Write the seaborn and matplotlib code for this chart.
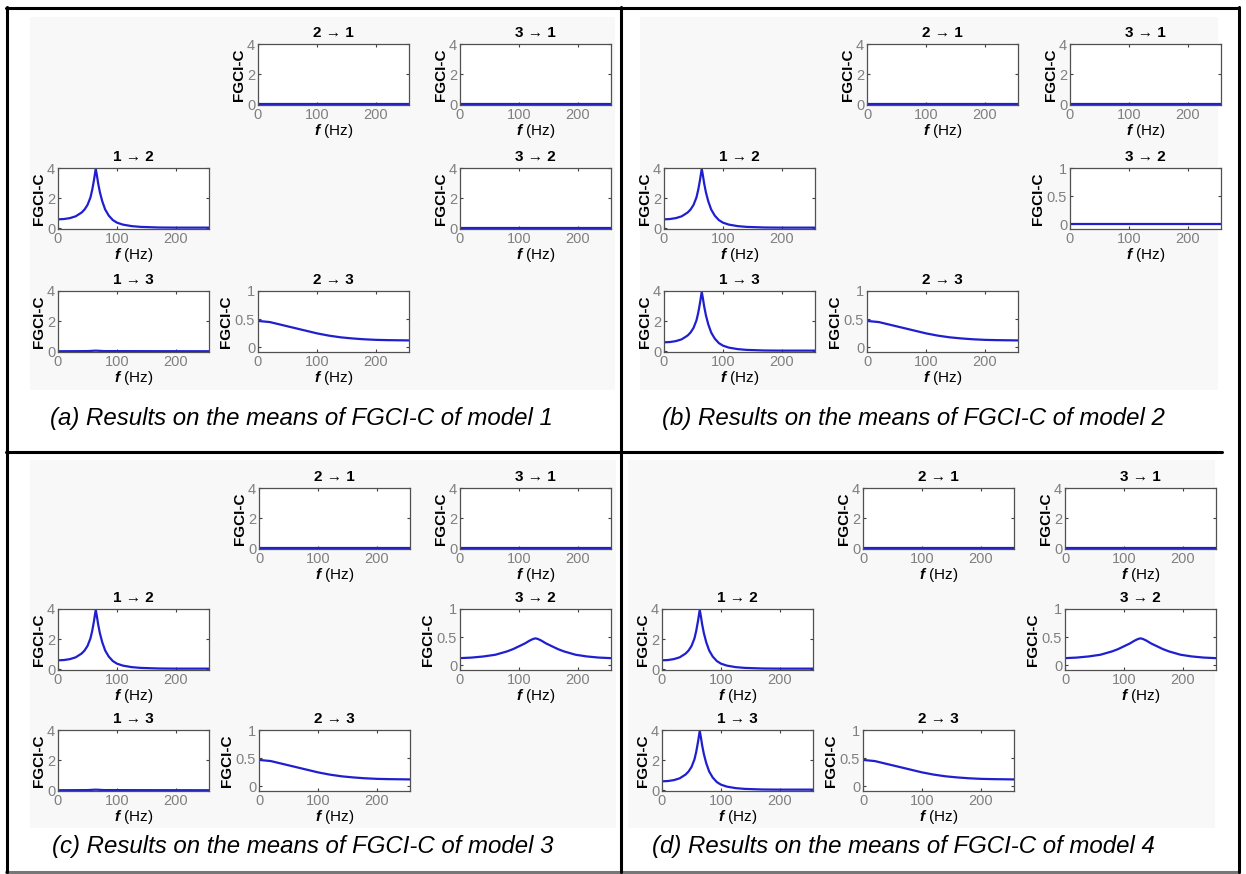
import matplotlib
matplotlib.use("Agg")
import matplotlib.pyplot as plt
from matplotlib.lines import Line2D
from matplotlib.patches import Rectangle
import seaborn as sns

# curves (f in Hz, FGCI-C value)
freq_peak = [0, 10, 20, 30, 40, 45, 50, 55, 58, 61, 64, 66, 68, 71, 75, 80, 86, 93, 100, 110,
             125, 140, 170, 200, 256]
fgci_peak = [0.60, 0.62, 0.68, 0.80, 1.05, 1.25, 1.55, 2.05, 2.55, 3.20, 3.95, 3.50, 3.00, 2.40,
             1.80, 1.25, 0.85, 0.55, 0.38, 0.25, 0.15, 0.10, 0.06, 0.05, 0.05]

freq_decay = [0, 20, 40, 60, 80, 100, 120, 140, 160, 180, 200, 220, 256]
fgci_decay = [0.47, 0.45, 0.40, 0.35, 0.30, 0.25, 0.21, 0.18, 0.16, 0.145, 0.135, 0.13, 0.125]

freq_mid = [0, 20, 40, 60, 70, 80, 90, 100, 110, 118, 124, 128, 132, 138, 146, 156, 166, 176,
            186, 196, 215, 235, 256]
fgci_mid = [0.13, 0.14, 0.16, 0.19, 0.22, 0.25, 0.29, 0.34, 0.39, 0.44, 0.47, 0.48, 0.47, 0.44,
            0.39, 0.34, 0.29, 0.25, 0.22, 0.19, 0.16, 0.14, 0.13]

freq_bump = [0, 50, 64, 78, 256]
fgci_bump = [0.01, 0.02, 0.05, 0.02, 0.01]

freq_flat = [0, 256]
fgci_zero = [0, 0]

captions = ["(a) Results on the means of FGCI-C of model 1",
            "(b) Results on the means of FGCI-C of model 2",
            "(c) Results on the means of FGCI-C of model 3",
            "(d) Results on the means of FGCI-C of model 4"]

curves = {
    "zero": (freq_flat, fgci_zero),
    "peak": (freq_peak, fgci_peak),
    "decay": (freq_decay, fgci_decay),
    "mid": (freq_mid, fgci_mid),
    "bump": (freq_bump, fgci_bump),
}
# (source, target) -> (curve, y scale) for each model
model_1 = {(2, 1): ("zero", 4), (3, 1): ("zero", 4), (1, 2): ("peak", 4),
           (3, 2): ("zero", 4), (1, 3): ("bump", 4), (2, 3): ("decay", 1)}
model_2 = {(2, 1): ("zero", 4), (3, 1): ("zero", 4), (1, 2): ("peak", 4),
           (3, 2): ("zero", 1), (1, 3): ("peak", 4), (2, 3): ("decay", 1)}
model_3 = {(2, 1): ("zero", 4), (3, 1): ("zero", 4), (1, 2): ("peak", 4),
           (3, 2): ("mid", 1), (1, 3): ("bump", 4), (2, 3): ("decay", 1)}
model_4 = {(2, 1): ("zero", 4), (3, 1): ("zero", 4), (1, 2): ("peak", 4),
           (3, 2): ("mid", 1), (1, 3): ("peak", 4), (2, 3): ("decay", 1)}
models = [model_1, model_2, model_3, model_4]

sns.set_style("ticks")
plt.rcParams["font.family"] = ["Liberation Sans", "DejaVu Sans"]
plt.rcParams["text.color"] = "black"
plt.rcParams["axes.labelcolor"] = "black"
plt.rcParams["mathtext.fontset"] = "custom"
plt.rcParams["mathtext.rm"] = "Liberation Sans"
plt.rcParams["mathtext.bf"] = "Liberation Sans:italic:bold"

W, H = 1246, 874
fig = plt.figure(figsize=(W / 100, H / 100), dpi=100)
fig.patch.set_facecolor("white")

# pixel layout of each panel: column lefts, row tops, caption position, image box
layouts = [
    dict(cols=[58, 258, 460], rows=[44, 168, 291], cap=(50, 418), box=(30, 17, 615, 390)),
    dict(cols=[664, 867, 1070], rows=[44, 168, 291], cap=(662, 418), box=(640, 17, 1218, 390)),
    dict(cols=[58, 259, 460], rows=[488, 609, 730], cap=(52, 847), box=(30, 460, 616, 828)),
    dict(cols=[662, 863, 1065], rows=[488, 609, 730], cap=(652, 847), box=(628, 460, 1215, 828)),
]
AW, AH = 151, 61


def px_axes(left, top, w, h):
    return fig.add_axes([left / W, 1 - (top + h) / H, w / W, h / H])


for model, lay, cap in zip(models, layouts, captions):
    bx0, by0, bx1, by1 = lay["box"]
    fig.add_artist(Rectangle((bx0 / W, 1 - by1 / H), (bx1 - bx0) / W, (by1 - by0) / H,
                             transform=fig.transFigure, facecolor="#f8f8f8",
                             edgecolor="none", zorder=0))
    for (src, tgt), (key, scale) in model.items():
        ax = px_axes(lay["cols"][src - 1], lay["rows"][tgt - 1], AW, AH)
        fx, fy = curves[key]
        sns.lineplot(x=fx, y=fy, ax=ax, color="#1f1fd0", linewidth=1.6)
        ax.set_xlim(0, 256)
        ax.set_xticks([0, 100, 200])
        if scale == 4:
            ax.set_ylim(-0.04, 4)
            ax.set_yticks([0, 2, 4])
            ax.set_yticklabels(["0", "2", "4"])
        else:
            ax.set_ylim(-0.08, 1)
            ax.set_yticks([0, 0.5, 1])
            ax.set_yticklabels(["0", "0.5", "1"])
        ax.tick_params(direction="in", top=True, right=True, length=2.5, width=0.8,
                       color="#404040", labelcolor="#808080", labelsize=10.5, pad=2)
        for sp in ax.spines.values():
            sp.set_color("#505050")
            sp.set_linewidth(0.9)
        ax.set_title(f"{src} \u2192 {tgt}", fontsize=11, fontweight="bold", pad=5)
        ax.set_ylabel("FGCI-C", fontsize=11, fontweight="bold", labelpad=1)
        ax.set_xlabel(r"$\mathbf{f}$ (Hz)", fontsize=11, labelpad=0)
    fig.text(lay["cap"][0] / W, 1 - lay["cap"][1] / H, cap, fontsize=17.3,
             fontstyle="italic", va="center", ha="left", color="black")


# table borders
def hline(y, x0, x1, color="black", lw=2.2):
    fig.add_artist(Line2D([x0 / W, x1 / W], [1 - y / H, 1 - y / H], color=color, lw=lw,
                          transform=fig.transFigure))


def vline(x, y0, y1, color="black", lw=2.2):
    fig.add_artist(Line2D([x / W, x / W], [1 - y0 / H, 1 - y1 / H], color=color, lw=lw,
                          transform=fig.transFigure))


hline(7.5, 6, 1239)
hline(452, 6, 1222)
hline(871.5, 6, 1239, color="#777777", lw=2.2)
vline(7, 6.5, 872)
vline(621, 6.5, 872)
vline(1238.5, 6.5, 872)

fig.savefig("out.png", dpi=100, facecolor="white")
